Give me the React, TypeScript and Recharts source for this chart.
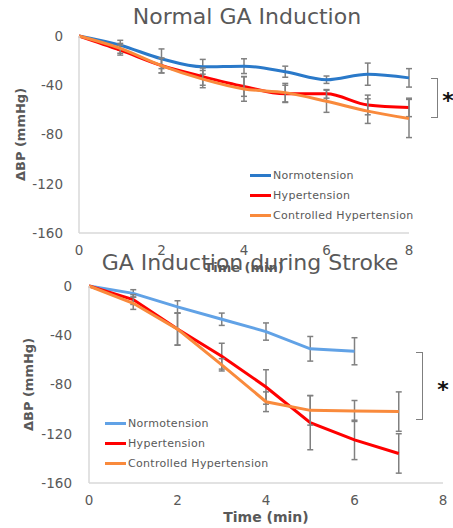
// Two stacked line charts: BP change during GA induction
import React from 'react';
import {
  LineChart,
  Line,
  XAxis,
  YAxis,
  ErrorBar,
  Legend,
} from 'recharts';

// normal induction, minutes 0..8
const normalTime = [0, 1, 2, 3, 4, 5, 6, 7, 8];
const normalNormo = [0, -7.5, -18.5, -25, -24.5, -29, -35.5, -31, -34];
const normalNormoErr = [0, 4, 8, 6, 6, 4.5, 3, 9, 7.5];
const normalHyper = [0, -11.5, -24, -33, -41, -47, -47, -56, -58];
const normalHyperErr = [0, 4, 6, 7, 8, 7, 3.5, 8, 7.5];
const normalCtrl = [0, -10, -24, -35, -43, -46, -53, -61, -67];
const normalCtrlErr = [0, 4, 6, 7, 10, 7.5, 9, 10, 15.5];

// induction during stroke, minutes 0..7
const strokeTime = [0, 1, 2, 3, 4, 5, 6, 7];
const strokeNormo = [0, -6, -17, -27, -37, -51, -53, null];
const strokeNormoErr = [0, 3, 5, 5, 7, 10, 11, null];
const strokeHyper = [0, -11, -35, -57, -82, -111, -125, -136];
const strokeHyperErr = [0, 4, 13, 10.5, 14, 22, 16, 16];
const strokeCtrl = [0, -14, -35, -64, -94, -101, -101.5, -102];
const strokeCtrlErr = [0, 5, 13, 5, 8, 12, 8.5, 16];

const xTicks = [0, 2, 4, 6, 8];
const yTicks = [0, -40, -80, -120, -160];
const seriesNames = ['Normotension', 'Hypertension', 'Controlled Hypertension'];

const normalData = normalTime.map(function (t, i) {
  return {
    t,
    normo: normalNormo[i],
    normoErr: normalNormoErr[i],
    hyper: normalHyper[i],
    hyperErr: normalHyperErr[i],
    ctrl: normalCtrl[i],
    ctrlErr: normalCtrlErr[i],
  };
});

const strokeData = strokeTime.map(function (t, i) {
  return {
    t,
    normo: strokeNormo[i],
    normoErr: strokeNormoErr[i],
    hyper: strokeHyper[i],
    hyperErr: strokeHyperErr[i],
    ctrl: strokeCtrl[i],
    ctrlErr: strokeCtrlErr[i],
  };
});

const FONT = '"DejaVu Sans", Verdana, sans-serif';
const GREY = '#595959';
const AXIS = '#d9d9d9';
const ERR = '#808080';
const RED = '#ff0000';
const ORANGE = '#f98a3c';

// legend keeps the series order, not alphabetical
function SeriesLegend({ payload }: any) {
  if (!payload) return null;
  const items = [...payload].sort(function (a: any, b: any) {
    return seriesNames.indexOf(a.value) - seriesNames.indexOf(b.value);
  });
  return (
    <div style={{ fontFamily: FONT, fontSize: 11, color: GREY, letterSpacing: 0.3 }}>
      {items.map(function (item: any) {
        return (
          <div key={item.value} style={{ display: 'flex', alignItems: 'center', height: 20 }}>
            <span style={{ width: 21, height: 3, background: item.color, marginRight: 2 }} />
            <span>{item.value}</span>
          </div>
        );
      })}
    </div>
  );
}

const tickStyle = { fill: GREY, fontSize: 13.5, fontFamily: FONT };

function Bracket({ x, top, bottom }: { x: number; top: number; bottom: number }) {
  return (
    <div
      style={{
        position: 'absolute',
        left: x - 7,
        top,
        width: 7,
        height: bottom - top,
        borderTop: '1.5px solid #7f7f7f',
        borderRight: '1.5px solid #7f7f7f',
        borderBottom: '1.5px solid #7f7f7f',
        boxSizing: 'border-box',
      }}
    />
  );
}

function Star({ x, y }: { x: number; y: number }) {
  return (
    <div
      style={{
        position: 'absolute',
        left: x - 10,
        top: y - 10,
        width: 20,
        textAlign: 'center',
        fontFamily: FONT,
        fontWeight: 'bold',
        fontSize: 22,
        lineHeight: '28px',
        color: '#111',
      }}
    >
      *
    </div>
  );
}

function Title({ text, cx, cy }: { text: string; cx: number; cy: number }) {
  return (
    <div
      style={{
        position: 'absolute',
        left: cx - 200,
        top: cy - 13,
        width: 400,
        textAlign: 'center',
        fontFamily: FONT,
        fontSize: 22,
        lineHeight: '26px',
        color: GREY,
      }}
    >
      {text}
    </div>
  );
}

function App() {
  return (
    <div style={{ position: 'absolute', left: 0, top: 0, width: 453, height: 528, background: '#fff' }}>
      <div style={{ position: 'absolute', left: 0, top: 0 }}>
        <LineChart width={453} height={275} data={normalData} margin={{ top: 36, right: 44, bottom: 12, left: 0 }}>
          <XAxis
            dataKey="t"
            type="number"
            domain={[0, 8]}
            ticks={xTicks}
            stroke={AXIS}
            strokeWidth={1.5}
            tickLine={false}
            tickMargin={6}
            tick={tickStyle}
            height={30}
            label={{ value: 'Time (min)', position: 'insideBottom', offset: -9, fill: GREY, fontSize: 13, fontWeight: 'bold', fontFamily: FONT }}
          />
          <YAxis
            type="number"
            domain={[-160, 0]}
            ticks={yTicks}
            stroke={AXIS}
            strokeWidth={1.5}
            tickLine={false}
            tickMargin={10}
            tick={tickStyle}
            width={79}
            label={{ value: 'ΔBP (mmHg)', angle: -90, position: 'insideLeft', offset: 20, fill: GREY, fontSize: 13, fontWeight: 'bold', fontFamily: FONT, style: { textAnchor: 'middle' } }}
          />
          <Legend
            layout="vertical"
            verticalAlign="middle"
            content={<SeriesLegend />}
            wrapperStyle={{ left: 250, top: 165, width: 180 }}
          />
          <Line type="monotone" dataKey="normo" name={seriesNames[0]} stroke="#2a79c9" strokeWidth={3} dot={false} isAnimationActive={false}>
            <ErrorBar dataKey="normoErr" width={3} stroke={ERR} strokeWidth={1.5} isAnimationActive={false} />
          </Line>
          <Line type="monotone" dataKey="hyper" name={seriesNames[1]} stroke={RED} strokeWidth={3} dot={false} isAnimationActive={false}>
            <ErrorBar dataKey="hyperErr" width={3} stroke={ERR} strokeWidth={1.5} isAnimationActive={false} />
          </Line>
          <Line type="monotone" dataKey="ctrl" name={seriesNames[2]} stroke={ORANGE} strokeWidth={3} dot={false} isAnimationActive={false}>
            <ErrorBar dataKey="ctrlErr" width={3} stroke={ERR} strokeWidth={1.5} isAnimationActive={false} />
          </Line>
        </LineChart>
      </div>

      <div style={{ position: 'absolute', left: 0, top: 250 }}>
        <LineChart width={453} height={278} data={strokeData} margin={{ top: 36, right: 10, bottom: 15, left: 0 }}>
          <XAxis
            dataKey="t"
            type="number"
            domain={[0, 8]}
            ticks={xTicks}
            stroke={AXIS}
            strokeWidth={1.5}
            tickLine={false}
            tickMargin={6}
            tick={tickStyle}
            height={30}
            label={{ value: 'Time (min)', position: 'insideBottom', offset: -9, fill: GREY, fontSize: 14, fontWeight: 'bold', fontFamily: FONT }}
          />
          <YAxis
            type="number"
            domain={[-160, 0]}
            ticks={yTicks}
            stroke={AXIS}
            strokeWidth={1.5}
            tickLine={false}
            tickMargin={11}
            tick={tickStyle}
            width={89}
            label={{ value: 'ΔBP (mmHg)', angle: -90, position: 'insideLeft', offset: 28, fill: GREY, fontSize: 13, fontWeight: 'bold', fontFamily: FONT, style: { textAnchor: 'middle' } }}
          />
          <Legend
            layout="vertical"
            verticalAlign="middle"
            content={<SeriesLegend />}
            wrapperStyle={{ left: 105, top: 163, width: 180 }}
          />
          <Line type="linear" dataKey="normo" name={seriesNames[0]} stroke="#61a2e6" strokeWidth={3} dot={false} isAnimationActive={false}>
            <ErrorBar dataKey="normoErr" width={3} stroke={ERR} strokeWidth={1.5} isAnimationActive={false} />
          </Line>
          <Line type="linear" dataKey="hyper" name={seriesNames[1]} stroke={RED} strokeWidth={3} dot={false} isAnimationActive={false}>
            <ErrorBar dataKey="hyperErr" width={3} stroke={ERR} strokeWidth={1.5} isAnimationActive={false} />
          </Line>
          <Line type="linear" dataKey="ctrl" name={seriesNames[2]} stroke={ORANGE} strokeWidth={3} dot={false} isAnimationActive={false}>
            <ErrorBar dataKey="ctrlErr" width={3} stroke={ERR} strokeWidth={1.5} isAnimationActive={false} />
          </Line>
        </LineChart>
      </div>

      <Title text="Normal GA Induction" cx={247} cy={17} />
      <Title text="GA Induction during Stroke" cx={250} cy={263} />
      <Bracket x={438} top={78} bottom={118} />
      <Star x={448} y={97} />
      <Bracket x={423} top={352} bottom={420} />
      <Star x={443} y={386} />
    </div>
  );
}

export default App;
